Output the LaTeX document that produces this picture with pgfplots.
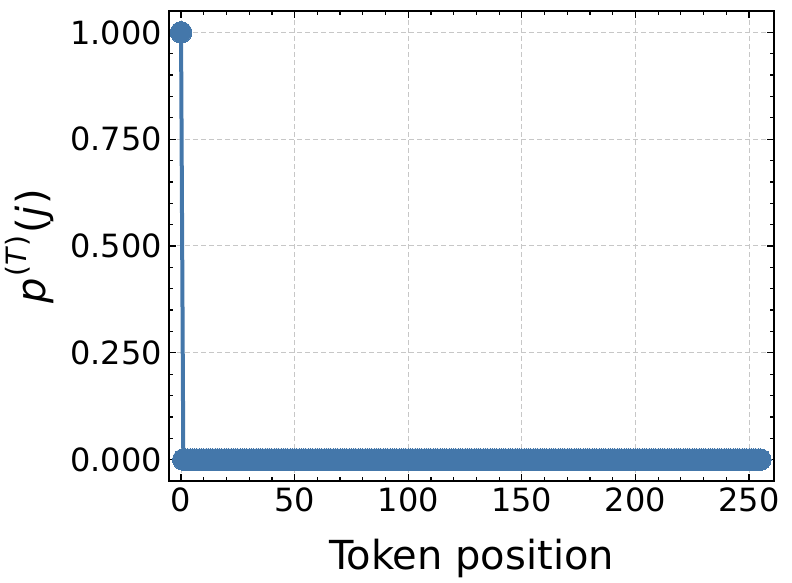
\documentclass[border=0pt]{standalone}
\usepackage{fontspec}
\setmainfont{DejaVu Sans}
\usepackage{pgfplots}
\pgfplotsset{compat=1.18}
\definecolor{cLine}{RGB}{68,119,170}

\begin{document}
\begin{tikzpicture}
\begin{axis}[
  width=302.5pt, height=235pt, scale only axis,
  xmin=-5.3, xmax=261, ymin=-0.05, ymax=1.05,
  xtick={0,50,100,150,200,250}, ytick={0,0.25,0.5,0.75,1},
  minor x tick num=4, minor y tick num=4,
  tick align=inside, xtick pos=both, ytick pos=both,
  major tick length=3.5pt, minor tick length=2pt,
  every tick/.style={black, line width=0.6pt},
  axis line style={line width=0.75pt},
  ymajorgrids, xmajorgrids, grid style={dash pattern=on 2.5pt off 1.5pt, black!22, line width=0.5pt},
  /pgf/number format/assume math mode=true,
  yticklabel style={/pgf/number format/.cd, fixed, fixed zerofill, precision=3},
  scaled y ticks=false,
  tick label style={font=\fontsize{16}{19}\selectfont},
  label style={font=\fontsize{20}{24}\selectfont},
  xlabel={Token position},
  xlabel style={at={(axis description cs:0.5,0)}, anchor=base, yshift=-44pt},
  ylabel={\textit{p}\kern0.5pt\raisebox{0.48em}{\fontsize{14}{16}\selectfont(\textit{T}\kern0.5pt)}\kern1pt(\textit{j}\kern1pt)},
  ylabel style={at={(axis description cs:-0.19,0.5)}, anchor=south, inner sep=0pt, rotate=0},
  clip=false,
]
\addplot[color=cLine, line width=2pt, mark=*, mark size=5.4pt, mark options={fill=cLine, draw=cLine, line width=0pt}]
coordinates {
(0,1) (1,0) (2,0) (3,0) (4,0) (5,0) (6,0) (7,0) (8,0) (9,0)
(10,0) (11,0) (12,0) (13,0) (14,0) (15,0) (16,0) (17,0) (18,0) (19,0)
(20,0) (21,0) (22,0) (23,0) (24,0) (25,0) (26,0) (27,0) (28,0) (29,0)
(30,0) (31,0) (32,0) (33,0) (34,0) (35,0) (36,0) (37,0) (38,0) (39,0)
(40,0) (41,0) (42,0) (43,0) (44,0) (45,0) (46,0) (47,0) (48,0) (49,0)
(50,0) (51,0) (52,0) (53,0) (54,0) (55,0) (56,0) (57,0) (58,0) (59,0)
(60,0) (61,0) (62,0) (63,0) (64,0) (65,0) (66,0) (67,0) (68,0) (69,0)
(70,0) (71,0) (72,0) (73,0) (74,0) (75,0) (76,0) (77,0) (78,0) (79,0)
(80,0) (81,0) (82,0) (83,0) (84,0) (85,0) (86,0) (87,0) (88,0) (89,0)
(90,0) (91,0) (92,0) (93,0) (94,0) (95,0) (96,0) (97,0) (98,0) (99,0)
(100,0) (101,0) (102,0) (103,0) (104,0) (105,0) (106,0) (107,0) (108,0) (109,0)
(110,0) (111,0) (112,0) (113,0) (114,0) (115,0) (116,0) (117,0) (118,0) (119,0)
(120,0) (121,0) (122,0) (123,0) (124,0) (125,0) (126,0) (127,0) (128,0) (129,0)
(130,0) (131,0) (132,0) (133,0) (134,0) (135,0) (136,0) (137,0) (138,0) (139,0)
(140,0) (141,0) (142,0) (143,0) (144,0) (145,0) (146,0) (147,0) (148,0) (149,0)
(150,0) (151,0) (152,0) (153,0) (154,0) (155,0) (156,0) (157,0) (158,0) (159,0)
(160,0) (161,0) (162,0) (163,0) (164,0) (165,0) (166,0) (167,0) (168,0) (169,0)
(170,0) (171,0) (172,0) (173,0) (174,0) (175,0) (176,0) (177,0) (178,0) (179,0)
(180,0) (181,0) (182,0) (183,0) (184,0) (185,0) (186,0) (187,0) (188,0) (189,0)
(190,0) (191,0) (192,0) (193,0) (194,0) (195,0) (196,0) (197,0) (198,0) (199,0)
(200,0) (201,0) (202,0) (203,0) (204,0) (205,0) (206,0) (207,0) (208,0) (209,0)
(210,0) (211,0) (212,0) (213,0) (214,0) (215,0) (216,0) (217,0) (218,0) (219,0)
(220,0) (221,0) (222,0) (223,0) (224,0) (225,0) (226,0) (227,0) (228,0) (229,0)
(230,0) (231,0) (232,0) (233,0) (234,0) (235,0) (236,0) (237,0) (238,0) (239,0)
(240,0) (241,0) (242,0) (243,0) (244,0) (245,0) (246,0) (247,0) (248,0) (249,0)
(250,0) (251,0) (252,0) (253,0) (254,0) (255,0)
};
\end{axis}
\pgfresetboundingbox
\path ([xshift=-84.5pt,yshift=-51pt]current axis.south west)
      ([xshift=9pt,yshift=5.5pt]current axis.north east);
\end{tikzpicture}
\end{document}
